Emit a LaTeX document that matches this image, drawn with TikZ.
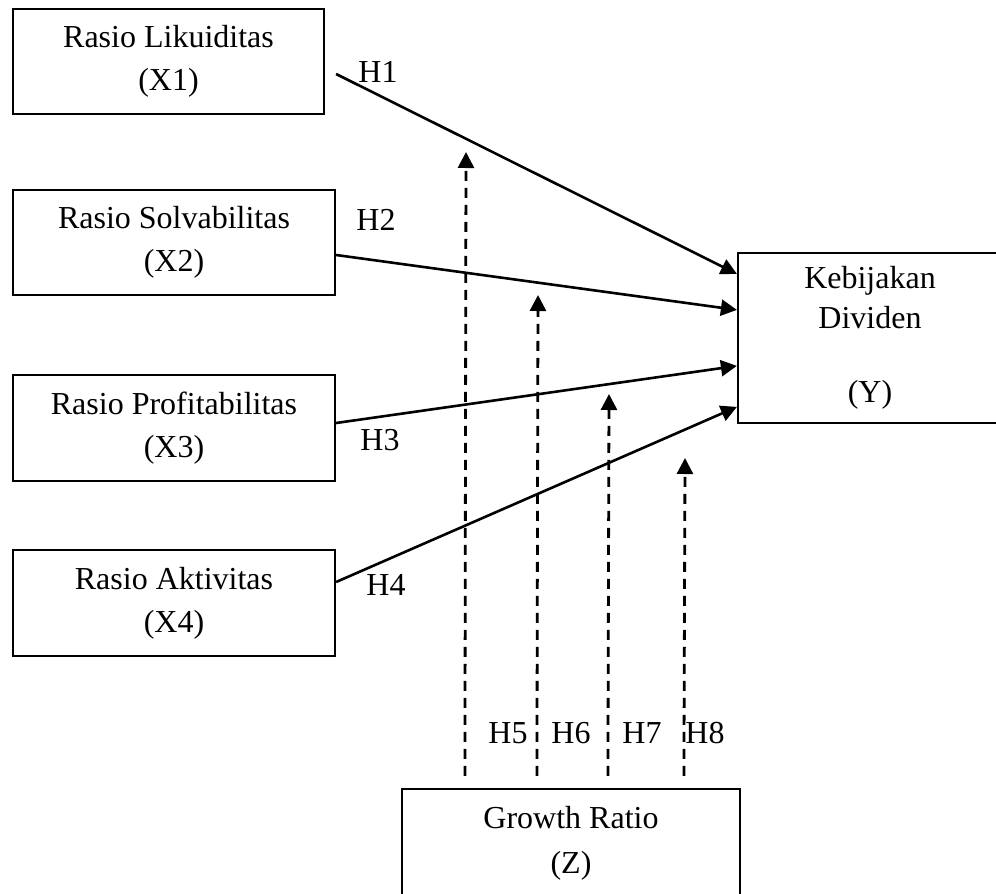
\documentclass[tikz,border=0pt]{standalone}
\usepackage{fontspec}
\setmainfont{Liberation Serif}
\usetikzlibrary{arrows.meta}
\begin{document}
\begin{tikzpicture}[x=1pt,y=-1pt,
  box/.style={draw,line width=2.2pt,inner sep=0pt,align=center,font=\fontsize{32}{43}\selectfont},
  lbl/.style={font=\fontsize{32}{37}\selectfont,inner sep=0pt,align=center},
  arr/.style={line width=2.6pt,-{Triangle[length=16pt,width=16pt]}},
  darr/.style={line width=2.8pt,dash pattern=on 10pt off 7pt,-{Triangle[length=16pt,width=16pt]}}]
\useasboundingbox (0,0) rectangle (996,894);
\fill[white] (0,0) rectangle (996,894);

\node[box,minimum width=311pt,minimum height=105pt] (x1) at (168.5,61.5) {Rasio Likuiditas\\(X1)};
\node[box,minimum width=322pt,minimum height=105pt] (x2) at (174,242.5) {Rasio Solvabilitas\\(X2)};
\node[box,minimum width=322pt,minimum height=106pt] (x3) at (174,428) {Rasio Profitabilitas\\(X3)};
\node[box,minimum width=322pt,minimum height=106pt] (x4) at (174,603) {Rasio Aktivitas\\(X4)};
\node[box,minimum width=264pt,minimum height=170pt] (y) at (870,338) {Kebijakan\\[-3pt]Dividen\\[31pt](Y)};
\node[box,minimum width=338pt,minimum height=112pt] (z) at (571,845) {};
\node[lbl] (zt) at (571,843.5) {Growth Ratio\\[8pt](Z)};

\node[lbl] (h1) at (378,72) {H1};
\node[lbl] (h2) at (376,220) {H2};
\node[lbl] (h3) at (380,440) {H3};
\node[lbl] (h4) at (386,585) {H4};
\node[lbl] (h5) at (508,733) {H5};
\node[lbl] (h6) at (571,733) {H6};
\node[lbl] (h7) at (642,733) {H7};
\node[lbl] (h8) at (705,733) {H8};

\draw[arr] ([xshift=11pt,yshift=-12.5pt]x1.east) -- ([yshift=-22pt]y.north west);
\draw[arr] ([yshift=-12.5pt]x2.east) -- ([yshift=-58pt]y.north west);
\draw[arr] ([yshift=5pt]x3.east) -- ([yshift=-114pt]y.north west);
\draw[arr] ([yshift=21pt]x4.east) -- ([yshift=-155pt]y.north west);

\coordinate (t5) at (466,152);
\coordinate (t6) at (538,295);
\coordinate (t7) at (609,394);
\coordinate (t8) at (685,458);
\draw[darr] ([xshift=64pt,yshift=12pt]z.north west) -- (t5);
\draw[darr] ([xshift=136pt,yshift=12pt]z.north west) -- (t6);
\draw[darr] ([xshift=207pt,yshift=12pt]z.north west) -- (t7);
\draw[darr] ([xshift=283pt,yshift=12pt]z.north west) -- (t8);
\end{tikzpicture}
\end{document}
